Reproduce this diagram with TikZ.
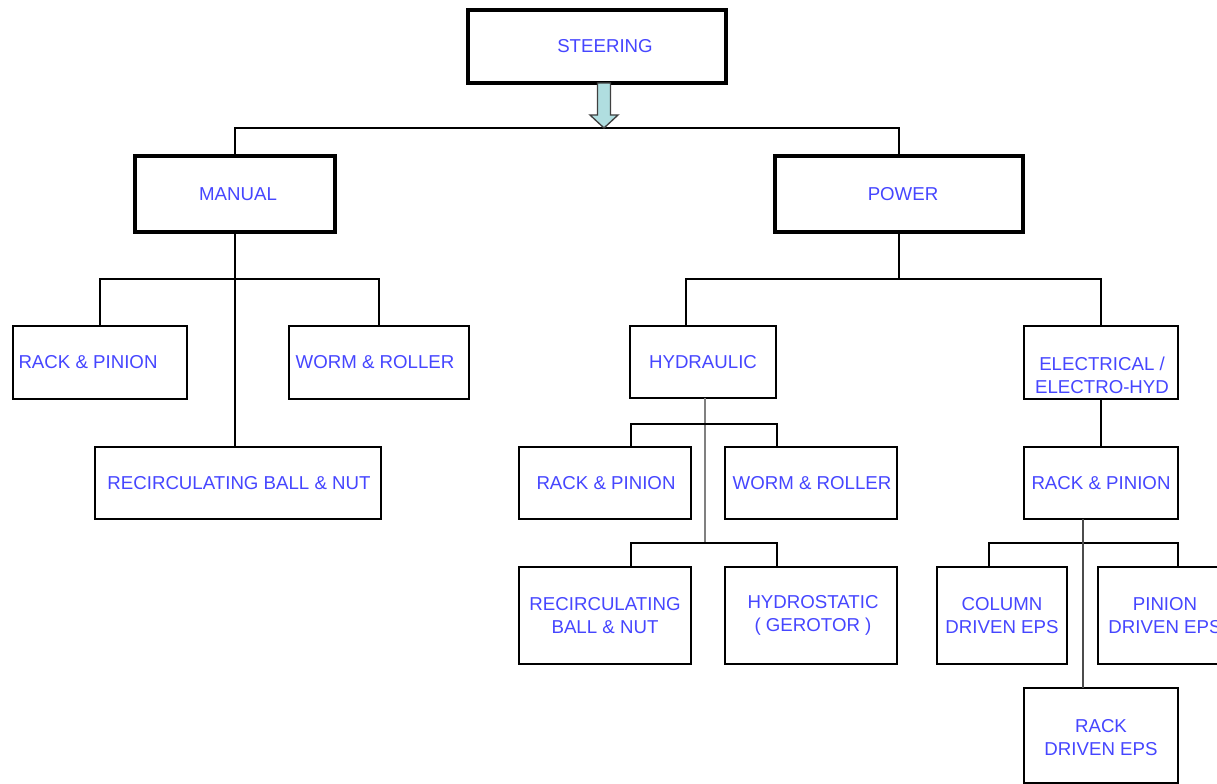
\documentclass[tikz,border=0pt]{standalone}
\usepackage{fontspec}
\setmainfont{Liberation Sans}
\usetikzlibrary{calc}
\definecolor{txtblue}{RGB}{70,70,255}
\definecolor{arrowfill}{RGB}{176,222,224}
% #1 extra style, #2 name, #3..#6 x1,y1,x2,y2 (px), #7 text, #8 text offset
\newcommand\mybox[8][]{%
  \node[boxst,#1,minimum width={(#5-#3)*0.75pt},minimum height={(#6-#4)*0.75pt}] (#2) at ({(#3+#5)/2},{(#4+#6)/2}) {};
  \node[txtst] (#2t) at ($(#2.center)+(#8)$) {#7};}
\begin{document}
\begin{tikzpicture}[x=0.75pt,y=-0.75pt,
  boxst/.style={draw=black,line width=1.6pt,inner sep=0pt,outer sep=0pt},
  topbox/.style={line width=2.4pt},
  txtst/.style={text=txtblue,font=\fontsize{14}{17}\selectfont,align=center,inner sep=0pt},
  conn/.style={line width=1.4pt,draw=black},
  grayconn/.style={line width=1.4pt,draw=black!50},
  arrowst/.style={draw=black!75,line width=1pt,fill=arrowfill,line join=miter}]
\useasboundingbox (0,0) rectangle (1217,784);
\fill[white] (0,0) rectangle (1217,784);

% boxes
\mybox[topbox]{st}{468}{10}{726}{83}{STEERING}{8,0}
\mybox[topbox]{man}{135}{156}{335}{232}{MANUAL}{3,0}
\mybox[topbox]{pow}{775}{156}{1023}{232}{POWER}{4,0}

\mybox{rp1}{13}{326}{187}{399}{RACK \& PINION}{-12,0}
\mybox{wr1}{289}{326}{469}{399}{WORM \& ROLLER}{-4,0}
\mybox{rec1}{95}{447}{381}{519}{RECIRCULATING BALL \& NUT}{1,0}

\mybox{hyd}{630}{326}{776}{398}{HYDRAULIC}{0,0}
\mybox{ele}{1024}{326}{1178}{399}{ELECTRICAL /\\ELECTRO-HYD}{1,13}

\mybox{rp2}{519}{447}{691}{519}{RACK \& PINION}{1,0}
\mybox{wr2}{725}{447}{897}{519}{WORM \& ROLLER}{1,0}
\mybox{rb2}{519}{567}{691}{664}{RECIRCULATING\\BALL \& NUT}{0,0}
\mybox{hs}{725}{567}{897}{664}{HYDROSTATIC\\( GEROTOR )}{2,0}

\mybox{rp3}{1024}{447}{1178}{519}{RACK \& PINION}{0,0}
\mybox{col}{937}{567}{1067}{664}{COLUMN\\DRIVEN EPS}{0,0}
\mybox{pin}{1098}{567}{1228}{664}{PINION\\DRIVEN EPS}{2,0}
\mybox{rdr}{1024}{688}{1178}{783}{RACK\\DRIVEN EPS}{0,2}

% top level
\coordinate (bus0) at (604,128);
\draw[conn] (man.north) |- (bus0) -| (pow.north);
\draw[arrowst] ($(st.south -| bus0)+(-6.5,0)$) -- ($(bus0)+(-6.5,-13)$) -- ($(bus0)+(-14,-13)$) -- (bus0)
  -- ($(bus0)+(14,-13)$) -- ($(bus0)+(6.5,-13)$) -- ($(st.south -| bus0)+(6.5,0)$) -- cycle;

% manual
\coordinate (mb) at (man.south |- 0,279);
\draw[conn] (man.south) -- (rec1.north -| man.south);
\draw[conn] (rp1.north) |- (mb) -| (wr1.north);

% power
\coordinate (pb) at (pow.south |- 0,279);
\coordinate (hin) at ($(hyd.north west)!0.384!(hyd.north east)$);
\draw[conn] (pow.south) -- (pb);
\draw[conn] (hin) |- (pb) -| (ele.north);

% hydraulic
\coordinate (hb1) at ($(hyd.south)+(2,26)$);
\coordinate (hb2) at ($(hyd.south)+(2,145)$);
\draw[grayconn] ($(hyd.south)+(2,0)$) -- (hb2);
\coordinate (rp2in) at ($(rp2.north west)!0.65!(rp2.north east)$);
\coordinate (wr2in) at ($(wr2.north west)!0.30!(wr2.north east)$);
\coordinate (rb2in) at ($(rb2.north west)!0.65!(rb2.north east)$);
\coordinate (hsin) at ($(hs.north west)!0.30!(hs.north east)$);
\draw[conn] (rp2in) |- (hb1) -| (wr2in);
\draw[conn] (rb2in) |- (hb2) -| (hsin);

% electrical
\draw[conn] (ele.south) -- (rp3.north);
\coordinate (eout) at ($(rp3.south west)!0.383!(rp3.south east)$);
\coordinate (eb) at (eout |- 0,543);
\coordinate (colin) at ($(col.north west)!0.40!(col.north east)$);
\coordinate (pinin) at ($(pin.north west)!0.615!(pin.north east)$);
\draw[conn] (colin) |- (eb) -| (pinin);
\draw[grayconn,draw=black!70] (eout) -- (eout |- rdr.north);
\end{tikzpicture}
\end{document}
